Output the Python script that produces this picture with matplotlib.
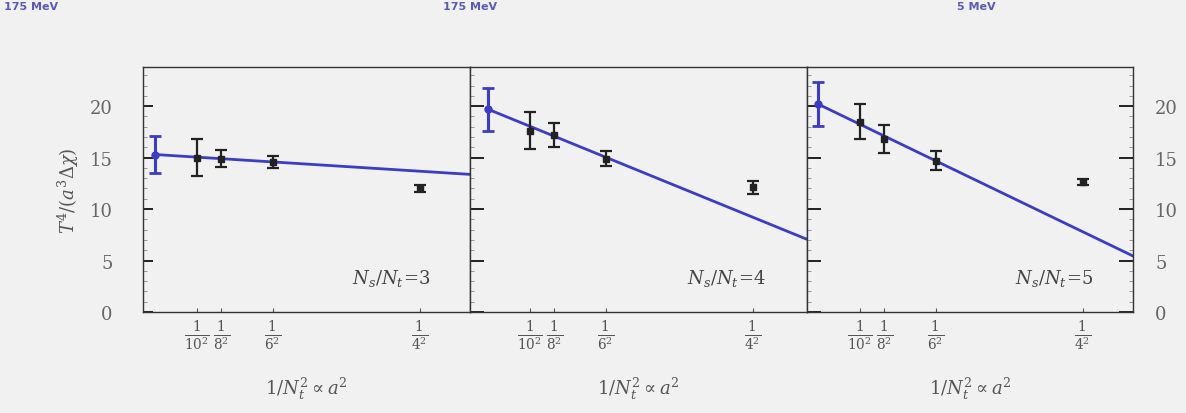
import numpy as np
import matplotlib
matplotlib.use("Agg")
import matplotlib.pyplot as plt

# ---- data ----
a2_ticks = [1/10**2, 1/8**2, 1/6**2, 1/4**2]
tick_labels = [r"$\frac{1}{10^2}$", r"$\frac{1}{8^2}$", r"$\frac{1}{6^2}$", r"$\frac{1}{4^2}$"]
ratios = ["3", "4", "5"]

# continuum-extrapolated points (at a^2 = 0)
cont_val = [15.3, 19.7, 20.2]
cont_err = [1.8, 2.1, 2.1]

# lattice points at 1/N_t^2 = 1/10^2, 1/8^2, 1/6^2, 1/4^2
lat_val = [
    [15.0, 14.9, 14.6, 12.0],
    [17.6, 17.2, 14.9, 12.1],
    [18.5, 16.8, 14.7, 12.6],
]
lat_err = [
    [1.8, 0.8, 0.6, 0.3],
    [1.8, 1.2, 0.7, 0.6],
    [1.7, 1.4, 0.95, 0.3],
]

# linear fits: values at a^2 = 0 and a^2 = 0.075
fit_a2 = [0.0, 0.075]
fit_vals = [
    [15.3, 13.35],
    [19.7, 7.1],
    [20.2, 5.3],
]

top_texts = ["175 MeV", "175 MeV", "5 MeV"]

# ---- style ----
W, H = 1186, 414
bg = "#f1f1f1"
blue = "#3c3cc4"
plt.rcParams["font.family"] = ["DejaVu Serif"]
plt.rcParams["mathtext.fontset"] = "dejavuserif"

fig = plt.figure(figsize=(W/100, H/100), dpi=100, facecolor=bg)

def fx(px):
    return px / W

bottom = (H - 313) / H
height = (313 - 68) / H
panels = [(143, 470, 155), (470, 807, 488), (807, 1133, 818)]
pxunit = 4240.0

axes = []
for i, (l, r, z) in enumerate(panels):
    ax = fig.add_axes([fx(l), bottom, fx(r - l), height])
    ax.set_facecolor(bg)
    ax.set_xlim((l - z) / pxunit, (r - z) / pxunit)
    ax.set_ylim(0, 23.8)
    for s in ax.spines.values():
        s.set_color("#333333")
        s.set_linewidth(1.0)

    # fit line
    ax.plot(fit_a2, fit_vals[i], color=blue, lw=2.0, zorder=2)
    # continuum point
    ax.errorbar([0.0], [cont_val[i]], yerr=[cont_err[i]], fmt="o", ms=5,
                color=blue, ecolor=blue, elinewidth=2.2, capsize=4, capthick=2, zorder=4)
    # lattice points
    ax.errorbar(a2_ticks, lat_val[i], yerr=lat_err[i], fmt="s", ms=4,
                color="#222222", ecolor="#222222", elinewidth=1.6, capsize=4,
                capthick=1.6, zorder=3)

    ax.set_xticks(a2_ticks)
    ax.set_xticklabels(tick_labels, fontsize=14, color="#555555")
    ax.tick_params(axis="x", direction="in", length=3, pad=5, color="#555555")
    ax.set_yticks([0, 5, 10, 15, 20])
    ax.set_yticks(np.arange(0, 24, 1), minor=True)
    ax.tick_params(axis="y", which="major", direction="in", length=7, width=1.4,
                   left=True, right=False, labelleft=False, color="#222222")
    ax.tick_params(axis="y", which="minor", direction="in", length=3, width=0.6,
                   left=True, right=False, color="#888888")

    ax.text(0.88, 0.14, r"$N_s/N_t\!=\!" + ratios[i] + "$", transform=ax.transAxes,
            ha="right", va="center", fontsize=13, color="#444444")
    ax.set_xlabel(r"$1/N_t^2 \propto a^2$", fontsize=13, color="#555555", labelpad=16)
    axes.append(ax)

axes[0].tick_params(axis="y", which="major", labelleft=True, labelsize=13,
                    labelcolor="#666666", pad=22)
axes[0].set_ylabel(r"$T^4/(a^3\Delta\chi)$", fontsize=13, color="#555555", labelpad=6)
axes[2].tick_params(axis="y", which="both", right=True)
axes[2].tick_params(axis="y", which="major", labelright=True, labelsize=13,
                    labelcolor="#666666", pad=16)
for ax in axes[1:]:
    ax.tick_params(axis="y", which="major", length=10, width=1.4)

# faint heading text at the top (mostly cropped in the reference)
for t, px in zip(top_texts, [4, 443, 957]):
    fig.text(fx(px), 1 - 2 / H, t, fontsize=8, color="#5a5ab8", ha="left",
             va="top", fontweight="bold", family="DejaVu Sans")

fig.savefig("out.png", dpi=100, facecolor=bg)
